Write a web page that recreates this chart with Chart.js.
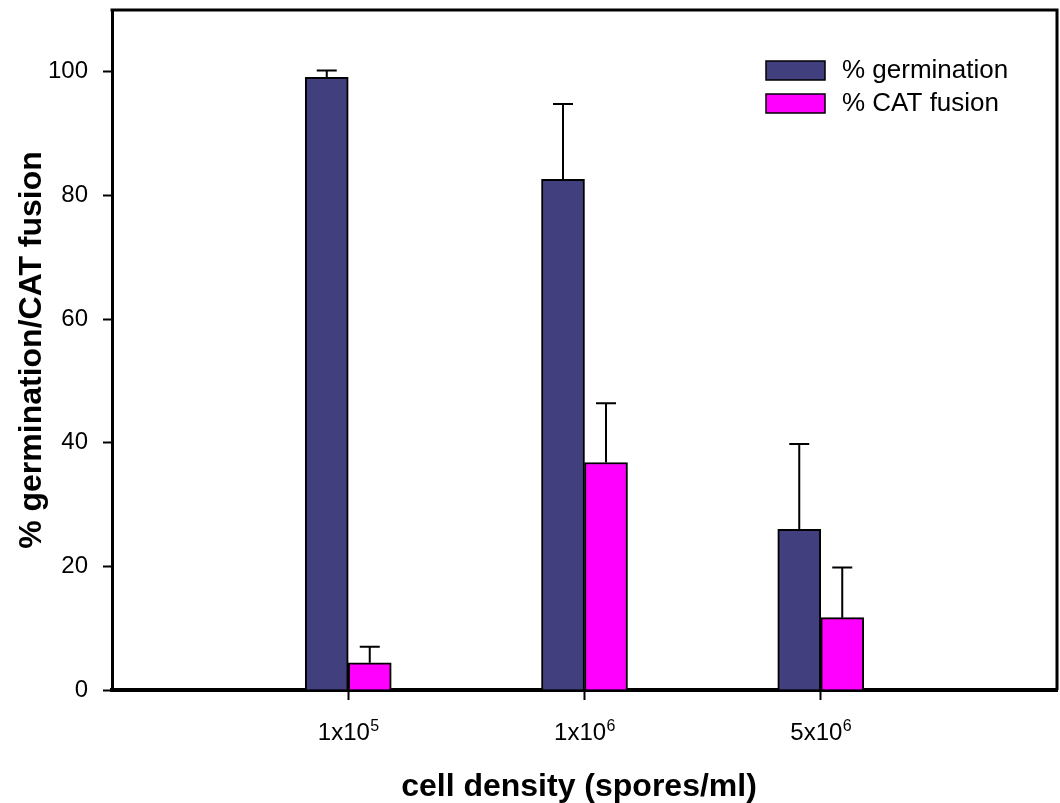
<!DOCTYPE html>
<html>
<head>
<meta charset="utf-8">
<title>Germination and CAT fusion vs cell density</title>
<script src="https://cdn.jsdelivr.net/npm/chart.js@4/dist/chart.umd.min.js"></script>
<style>
  html, body { margin: 0; padding: 0; background: #ffffff; }
  #c { display: block; }
</style>
</head>
<body>
<canvas id="c" width="1060" height="803"></canvas>
<script>
// Cell densities (spores/ml): mantissa text and power of ten
const densityBase = ['1x10', '1x10', '5x10'];
const densityExp = ['5', '6', '6'];

// Mean percentages and their (upper) error bars
const germination = [99.1, 82.6, 26.0];
const germinationErr = [1.1, 12.2, 13.8];
const catFusion = [4.4, 36.8, 11.7];
const catFusionErr = [2.6, 9.6, 8.1];

// Y axis tick values
const yTicks = [0, 20, 40, 60, 80, 100];

const FONT = "'Liberation Sans', Arial, Helvetica, sans-serif";

const toPoints = vals => vals.map((v, i) => ({ x: i + 1, y: v }));

// Upward error bars with a short cap, placed through the chart's scales
const errorBars = {
  id: 'errorBars',
  afterDatasetsDraw(chart) {
    const ctx = chart.ctx;
    const y = chart.scales.y;
    ctx.save();
    ctx.strokeStyle = '#000';
    ctx.lineWidth = 2;
    chart.data.datasets.forEach((ds, di) => {
      const meta = chart.getDatasetMeta(di);
      meta.data.forEach((bar, i) => {
        const top = y.getPixelForValue(ds.data[i].y + ds.errors[i]);
        ctx.beginPath();
        ctx.moveTo(bar.x, bar.y);
        ctx.lineTo(bar.x, top);
        ctx.moveTo(bar.x - 10, top);
        ctx.lineTo(bar.x + 10, top);
        ctx.stroke();
      });
    });
    ctx.restore();
  }
};

// Frame, density labels with superscript exponents, axis titles and legend
const decorations = {
  id: 'decorations',
  afterDraw(chart) {
    const ctx = chart.ctx;
    const a = chart.chartArea;
    const xs = chart.scales.x;
    ctx.save();

    // top and right edges of the plot frame
    ctx.strokeStyle = '#000';
    ctx.lineWidth = 3;
    ctx.beginPath();
    ctx.moveTo(a.left - 1.5, a.top);
    ctx.lineTo(a.right, a.top);
    ctx.lineTo(a.right, a.bottom);
    ctx.stroke();

    // x tick labels: "1x10" + raised exponent
    ctx.fillStyle = '#000';
    ctx.textBaseline = 'alphabetic';
    ctx.textAlign = 'left';
    densityBase.forEach((base, i) => {
      const cx = xs.getPixelForValue(i + 1);
      ctx.font = '24px ' + FONT;
      const wb = ctx.measureText(base).width;
      ctx.font = '16px ' + FONT;
      const we = ctx.measureText(densityExp[i]).width;
      const x0 = cx - (wb + we) / 2;
      ctx.font = '24px ' + FONT;
      ctx.fillText(base, x0, 740);
      ctx.font = '16px ' + FONT;
      ctx.fillText(densityExp[i], x0 + wb + 0.5, 731);
    });

    // axis titles
    ctx.font = 'bold 32px ' + FONT;
    ctx.textAlign = 'center';
    ctx.textBaseline = 'alphabetic';
    ctx.fillText('cell density (spores/ml)', 579, 796);

    ctx.save();
    ctx.translate(41, (a.top + a.bottom) / 2);
    ctx.rotate(-Math.PI / 2);
    ctx.fillText('% germination/CAT fusion', 0, 0);
    ctx.restore();

    // legend
    const rows = [61, 94];
    ctx.textAlign = 'left';
    ctx.textBaseline = 'middle';
    ctx.font = '26px ' + FONT;
    chart.data.datasets.forEach((ds, i) => {
      const yTop = rows[i];
      ctx.fillStyle = ds.backgroundColor;
      ctx.fillRect(766, yTop, 59, 19);
      ctx.lineWidth = 1.5;
      ctx.strokeStyle = '#000';
      ctx.strokeRect(766, yTop, 59, 19);
      ctx.fillStyle = '#000';
      ctx.fillText(ds.label, 842, yTop + 10);
    });

    ctx.restore();
  }
};

new Chart(document.getElementById('c'), {
  type: 'bar',
  data: {
    datasets: [
      {
        label: '% germination',
        data: toPoints(germination),
        errors: germinationErr,
        backgroundColor: '#413F7D',
        borderColor: '#000',
        borderWidth: 2,
        barThickness: 43
      },
      {
        label: '% CAT fusion',
        data: toPoints(catFusion),
        errors: catFusionErr,
        backgroundColor: '#FF00FF',
        borderColor: '#000',
        borderWidth: 2,
        barThickness: 43
      }
    ]
  },
  options: {
    responsive: false,
    devicePixelRatio: 1,
    animation: false,
    layout: { padding: { top: 10, right: 3, left: 0, bottom: 0 } },
    plugins: {
      legend: { display: false },
      tooltip: { enabled: false }
    },
    scales: {
      x: {
        type: 'linear',
        min: 0,
        max: densityBase.length + 1,
        offset: false,
        afterBuildTicks: s => { s.ticks = densityBase.map((_, i) => ({ value: i + 1 })); },
        afterFit: s => {
          s.height = 113;
          s.paddingLeft = 0; s.paddingRight = 0;
        },
        ticks: { callback: () => '', font: { size: 24, family: FONT } },
        grid: {
          offset: false,
          drawOnChartArea: false,
          drawTicks: true,
          tickLength: 10,
          tickWidth: 2,
          tickColor: '#000'
        },
        border: { display: true, color: '#000', width: 4 }
      },
      y: {
        min: 0,
        max: 110,
        afterBuildTicks: s => { s.ticks = yTicks.map(v => ({ value: v })); },
        afterFit: s => {
          s.width = 112;
          s.paddingTop = 0; s.paddingBottom = 0;
        },
        ticks: {
          color: '#000',
          padding: 15,
          font: { size: 24, family: FONT }
        },
        grid: {
          drawOnChartArea: false,
          drawTicks: true,
          tickLength: 9,
          tickWidth: 2,
          tickColor: '#000'
        },
        border: { display: true, color: '#000', width: 3 }
      }
    }
  },
  plugins: [errorBars, decorations]
});
</script>
</body>
</html>
